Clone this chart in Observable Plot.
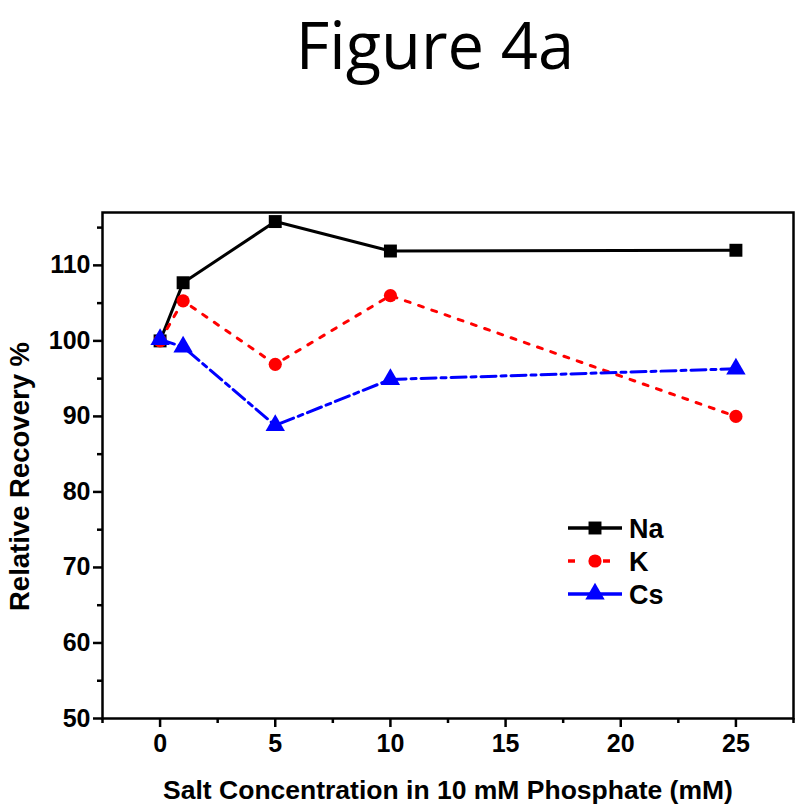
<!DOCTYPE html>
<html>
<head>
<meta charset="utf-8">
<script src="https://cdn.jsdelivr.net/npm/d3@7"></script>
<script src="https://cdn.jsdelivr.net/npm/@observablehq/plot@0.6"></script>
<style>
  html, body { margin: 0; padding: 0; background: white; }
  #wrap { position: relative; width: 800px; height: 812px; }
  #title { display: block; height: 140px; position: relative; }
  #title div { position: absolute; left: 0; width: 870px; top: 0px; text-align: center;
    font-family: 'Open Sans', sans-serif; font-size: 65px; line-height: 89px; color: black; }
  #legend { position: absolute; left: 0; top: 0; }
</style>
</head>
<body>
<div id="wrap"></div>
<script>
// ---- data ----
const concentrations = [0, 1, 5, 10, 25];
const naValues = [100, 107.7, 115.8, 111.9, 112.0];
const kValues  = [100, 105.3, 96.9, 106.0, 90.0];
const csValues = [100.2, 99.2, 88.8, 94.9, 96.3];
const seriesNames = ["Na", "K", "Cs"];
const xMajorTicks = [0, 5, 10, 15, 20, 25];
const xMinorTicks = [-2.5, 2.5, 7.5, 12.5, 17.5, 22.5, 27.5];
const yMajorTicks = [50, 60, 70, 80, 90, 100, 110];
const yMinorTicks = [55, 65, 75, 85, 95, 105, 115];
const titleText = "Figure 4a";
const xLabel = "Salt Concentration in 10 mM Phosphate (mM)";
const yLabel = "Relative Recovery %";

const styles = {
  Na: {stroke: "black", dash: null, symbol: "square", r: 7.3},
  K:  {stroke: "#ff0000", dash: "5,9", symbol: "circle", r: 6.6},
  Cs: {stroke: "#0000ff", dash: "15,5,5,5", symbol: "triangle", r: 7.2}
};

const valuesBySeries = {Na: naValues, K: kValues, Cs: csValues};
const data = seriesNames.flatMap(s => concentrations.map((c, i) => ({series: s, x: c, y: valuesBySeries[s][i]})));

const wrap = document.getElementById("wrap");

// ---- title ----
const titleBox = document.createElement("div");
titleBox.id = "title";
const titleInner = document.createElement("div");
titleInner.textContent = titleText;
titleBox.appendChild(titleInner);
wrap.appendChild(titleBox);

// ---- chart ----
const font = "'Liberation Sans', Arial, sans-serif";
const marks = [
  Plot.frame({stroke: "black", strokeWidth: 2.5}),
  Plot.axisX(xMajorTicks, {tickSize: 9, tickPadding: 7, strokeWidth: 2.5, fontSize: 25, label: null}),
  Plot.axisX(xMinorTicks, {tickSize: 5, strokeWidth: 2.5, text: null, label: null}),
  Plot.axisY(yMajorTicks, {tickSize: 9, tickPadding: 3, strokeWidth: 2.5, fontSize: 25, label: null}),
  Plot.axisY(yMinorTicks, {tickSize: 5, strokeWidth: 2.5, text: null, label: null}),
  Plot.text([xLabel], {text: d => d, frameAnchor: "bottom", dy: 72, fontSize: 26.5, fontWeight: "bold", lineAnchor: "middle"}),
  Plot.text([yLabel], {text: d => d, frameAnchor: "left", rotate: -90, dx: -82, dy: 11, fontSize: 27.5, fontWeight: "bold", lineAnchor: "middle", textAnchor: "middle"})
];
for (const s of seriesNames) {
  const st = styles[s];
  const d = data.filter(e => e.series === s);
  marks.push(Plot.line(d, {x: "x", y: "y", stroke: st.stroke, strokeWidth: 3, strokeDasharray: st.dash}));
}
for (const s of seriesNames) {
  const st = styles[s];
  const d = data.filter(e => e.series === s);
  marks.push(Plot.dot(d, {x: "x", y: "y", fill: st.stroke, stroke: "none", symbol: st.symbol, r: st.r}));
}

const chart = Plot.plot({
  width: 800,
  height: 672,
  marginTop: 72,
  marginBottom: 94,
  marginLeft: 102,
  marginRight: 7,
  x: {domain: [-2.5, 27.5]},
  y: {domain: [50, 117]},
  style: {fontFamily: font, fontWeight: "bold", color: "black", background: "white", overflow: "visible"},
  marks
});
wrap.appendChild(chart);

// ---- legend ----
const leg = d3.create("svg").attr("id", "legend").attr("width", 800).attr("height", 812);
const rows = [528, 561, 594];
seriesNames.forEach((s, i) => {
  const st = styles[s];
  const y = rows[i];
  const g = leg.append("g");
  if (s === "K") {
    g.append("line").attr("x1", 568).attr("x2", 575).attr("y1", y).attr("y2", y).attr("stroke", st.stroke).attr("stroke-width", 3.5);
    g.append("line").attr("x1", 603).attr("x2", 610).attr("y1", y).attr("y2", y).attr("stroke", st.stroke).attr("stroke-width", 3.5);
  } else {
    g.append("line").attr("x1", 568).attr("x2", 622).attr("y1", y).attr("y2", y).attr("stroke", st.stroke).attr("stroke-width", 3.5);
  }
  const sym = {square: d3.symbolSquare, circle: d3.symbolCircle, triangle: d3.symbolTriangle}[st.symbol];
  g.append("path").attr("d", d3.symbol(sym, Math.PI * st.r * st.r)()).attr("transform", `translate(595,${y})`).attr("fill", st.stroke);
  g.append("text").attr("x", 629).attr("y", y).attr("dy", "0.36em")
    .attr("font-family", font).attr("font-weight", "bold").attr("font-size", 27).attr("fill", "black").text(s);
});
wrap.appendChild(leg.node());
</script>
</body>
</html>
